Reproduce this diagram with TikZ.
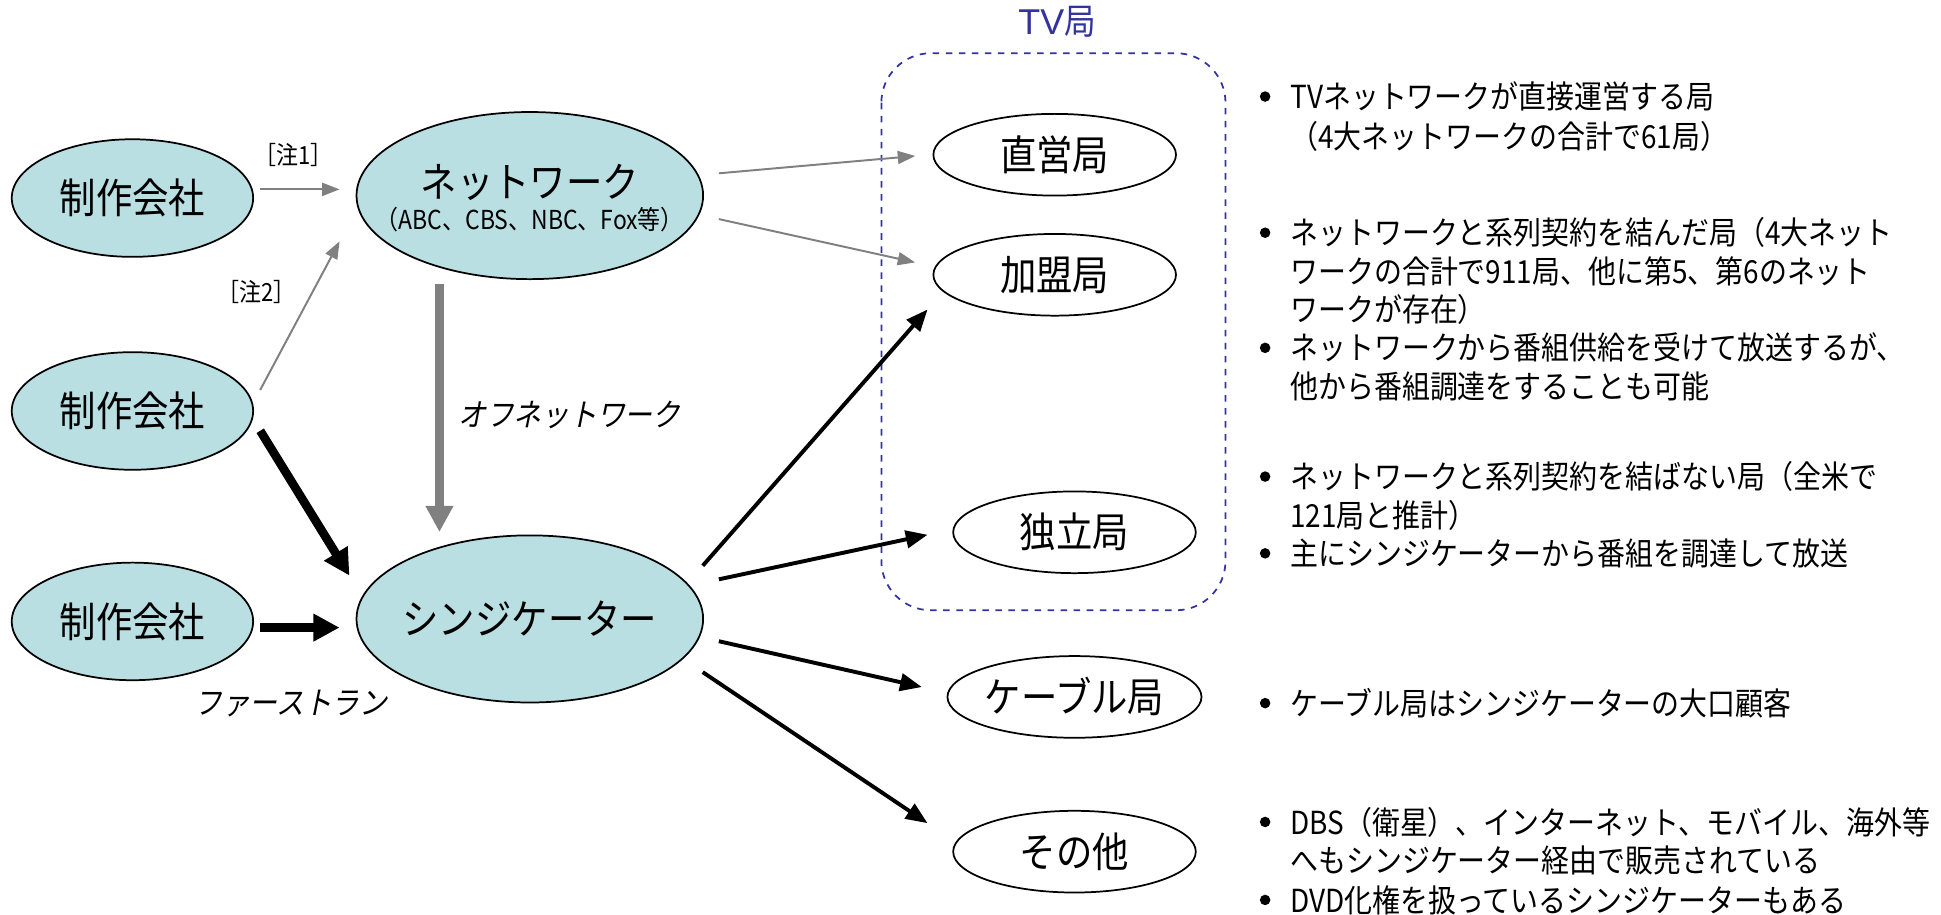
\documentclass[tikz,border=0pt]{standalone}
\usepackage{fontspec}
\setmainfont[FakeStretch=0.88]{Noto Sans CJK JP}
\newfontfamily\jpit[FakeSlant=0.2,FakeStretch=0.88]{Noto Sans CJK JP}
\newfontfamily\latf{Liberation Sans}
\usetikzlibrary{shapes.geometric,arrows.meta,calc}
\definecolor{efill}{HTML}{B9DFE3}
\definecolor{tvblue}{HTML}{3333A0}
\definecolor{agray}{HTML}{808080}
\begin{document}
\begin{tikzpicture}[x=0.02cm,y=-0.02cm,
  lab/.style={font=\fontsize{19}{22}\selectfont},
  prod/.style={ellipse,draw=black,line width=0.8pt,fill=efill,inner sep=0pt,
    minimum width=195*0.02cm,minimum height=95*0.02cm,lab},
  big/.style={ellipse,draw=black,line width=0.8pt,fill=efill,inner sep=0pt,
    minimum width=280*0.02cm,minimum height=135*0.02cm,lab},
  stn/.style={ellipse,draw=black,line width=0.8pt,fill=white,inner sep=0pt,
    minimum width=196*0.02cm,minimum height=66*0.02cm,lab},
  txt/.style={inner sep=0pt,lab},
  bul/.style={anchor=west,inner sep=0pt,font=\fontsize{14.6}{17}\selectfont},
  dot/.style={circle,fill=black,inner sep=0pt,minimum size=8.5*0.02cm},
  note/.style={inner sep=0pt,font=\fontsize{11.5}{13}\selectfont},
  itl/.style={inner sep=0pt,font=\jpit\fontsize{14.5}{17}\selectfont},
  thinar/.style={draw=agray,line width=0.9pt,-{Triangle[length=8pt,width=6pt]}},
  offar/.style={draw=agray,line width=4pt,-{Triangle[length=12pt,width=12pt]}},
  prodar/.style={draw=black,line width=4pt,-{Triangle[length=12pt,width=12pt]}},
  synar/.style={draw=black,line width=1.8pt,-{Triangle[length=10pt,width=8pt]}}
]
\useasboundingbox (0,0) rectangle (1568,739);

% TV station group
\draw[tvblue,dashed,line width=0.8pt,rounded corners=40*0.02cm] (712,43) rectangle (990,493);
\node[inner sep=0pt,text=tvblue,font=\fontsize{16.5}{19}\selectfont] (tv) at (854,18) {{\latf TV}局};

% main nodes
\node[prod] (p1) at (107,160) {制作会社};
\node[prod] (p2) at (107,332) {制作会社};
\node[prod] (p3) at (107,502) {制作会社};
\node[big] (net) at (428,158) {};
\node[txt] (netl) at ($(net.center)+(0,-11)$) {ネットワーク};
\node[inner sep=0pt,font=\fontsize{12}{14}\selectfont] (nets) at ($(net.center)+(0,19)$) {（ABC、CBS、NBC、Fox等）};
\node[big] (syn) at (428,500) {};
\node[txt] (synl) at (syn.center) {シンジケーター};

\node[stn] (s1) at (852,125) {直営局};
\node[stn] (s2) at (852,222) {加盟局};
\node[stn] (s3) at (868,430) {独立局};
\node[stn] (s4) at (868,563) {ケーブル局};
\node[stn] (s5) at (868,688) {その他};

% labels
\node[note] (n1) at (237,125) {［注1］};
\node[note] (n2) at (207,236) {［注2］};
\node[itl] (off) at (460,335) {オフネットワーク};
\node[itl] (first) at (235,568) {ファーストラン};

% connectors
\draw[thinar] ($(p1.east)+(5,-7)$) -- ($(net.west)+(-13,-5)$);
\draw[thinar] ($(p2.east)+(5,-17)$) -- ($(net.west)+(-13,37)$);
\draw[offar] ($(net.south)+(-73,3)$) -- ($(syn.north)+(-73,-2)$);
\draw[prodar] ($(p2.east)+(5,16)$) -- ($(syn.west)+(-5,-35)$);
\draw[prodar] ($(p3.east)+(5,5)$) -- ($(syn.west)+(-13,7)$);
\draw[thinar] ($(net.east)+(12,-18)$) -- ($(s1.west)+(-14,1)$);
\draw[thinar] ($(net.east)+(12,19)$) -- ($(s2.west)+(-14,-10)$);
\draw[synar] ($(syn.east)+(-1,-43)$) -- ($(s2.west)+(-4,28)$);
\draw[synar] ($(syn.east)+(12,-32)$) -- ($(s3.west)+(-20,2)$);
\draw[synar] ($(syn.east)+(12,18)$) -- ($(s4.west)+(-20,-8)$);
\draw[synar] ($(syn.east)+(-1,43)$) -- ($(s5.west)+(-20,-23)$);

% bullet texts
\node[dot] (b1) at (1022,78) {};
\node[bul] (t1a) at (1042,78) {TVネットワークが直接運営する局};
\node[bul] (t1b) at (1042,110) {（4大ネットワークの合計で61局）};
\node[dot] (b2) at (1022,188) {};
\node[bul] (t2a) at (1042,188) {ネットワークと系列契約を結んだ局（4大ネット};
\node[bul] (t2b) at (1042,219) {ワークの合計で911局、他に第5、第6のネット};
\node[bul] (t2c) at (1042,250) {ワークが存在）};
\node[dot] (b3) at (1022,281) {};
\node[bul] (t3a) at (1042,281) {ネットワークから番組供給を受けて放送するが、};
\node[bul] (t3b) at (1042,312) {他から番組調達をすることも可能};
\node[dot] (b4) at (1022,385) {};
\node[bul] (t4a) at (1042,385) {ネットワークと系列契約を結ばない局（全米で};
\node[bul] (t4b) at (1042,416) {121局と推計）};
\node[dot] (b5) at (1022,447) {};
\node[bul] (t5a) at (1042,447) {主にシンジケーターから番組を調達して放送};
\node[dot] (b6) at (1022,568) {};
\node[bul] (t6a) at (1042,568) {ケーブル局はシンジケーターの大口顧客};
\node[dot] (b7) at (1022,664) {};
\node[bul] (t7a) at (1042,664) {DBS（衛星）、インターネット、モバイル、海外等};
\node[bul] (t7b) at (1042,695) {へもシンジケーター経由で販売されている};
\node[dot] (b8) at (1022,727) {};
\node[bul] (t8a) at (1042,727) {DVD化権を扱っているシンジケーターもある};
\end{tikzpicture}
\end{document}
